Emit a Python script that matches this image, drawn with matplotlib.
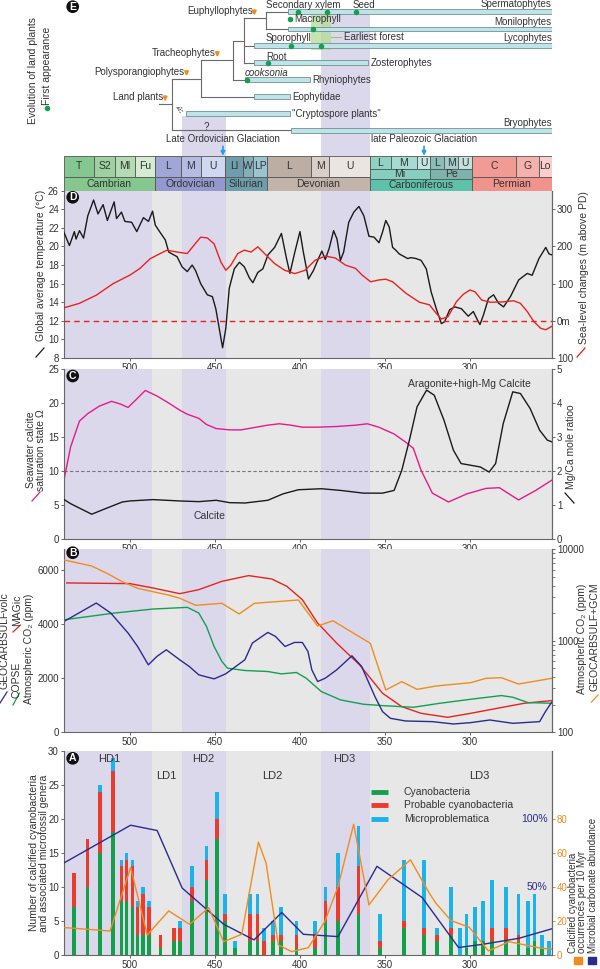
import numpy as np
import matplotlib.pyplot as plt
from matplotlib.patches import Rectangle
from matplotlib.lines import Line2D
from matplotlib.ticker import LogLocator, NullFormatter

plt.rcParams['font.family'] = ['Liberation Sans', 'DejaVu Sans']
plt.rcParams['axes.linewidth'] = 0.8

# === Data ===
# purple intervals (high diversity / glaciation windows), Ma
high_bands = [(538.8, 486.9), (469.5, 443.3), (387.8, 359.0)]

# geological timescale
periods = ['Cambrian', 'Ordovician', 'Silurian', 'Devonian', 'Carboniferous', 'Permian']
period_bounds = [538.8, 485.4, 443.8, 419.2, 358.9, 298.9, 251.9]
period_colors = ['#86c68f', '#9399cd', '#6e9dab', '#c2b4aa', '#5ec2aa', '#f0938c']
stages = ['T', 'S2', 'Ml', 'Fu', 'L', 'M', 'U', 'Ll', 'W', 'LP', 'L', 'M', 'U',
          'L', 'M', 'U', 'L', 'M', 'U', 'C', 'G', 'Lo']
stage_bounds = [538.8, 521, 509, 497, 485.4, 470, 458.4, 443.8, 433.4, 427.4, 419.2,
                393.3, 382.7, 358.9, 346.7, 330.9, 323.2, 315.2, 307, 298.9, 273, 259.5, 251.9]
stage_colors = ['#85c791', '#9dd1a0', '#b4dcb3', '#d6ecd2', '#a0a6d6', '#b5bce2', '#cfd8f0',
                '#6e9dab', '#85aebb', '#9ac4d0', '#bcaea3', '#d9cfc8', '#ebe5e1',
                '#8fd2c4', '#a5dcd1', '#c2e7e0', '#88bdb8', '#a2cdca', '#c4e1de',
                '#f29b94', '#f5b1ac', '#f9cfcd']
subperiods = ['Mi', 'Pe']
subperiod_bounds = [358.9, 323.2, 298.9]
subperiod_colors = ['#86cfc0', '#7eb3ad']

# E: land plant groups (range bars)
groups = ['Spermatophytes', 'Monilophytes', 'Lycophytes', 'Zosterophytes', 'Rhyniophytes',
          'Eophytidae', '"Cryptospore plants"', 'Bryophytes']
group_start = [407.2, 407.2, 426.8, 426.8, 432.4, 426.8, 467.3, 405.4]
group_end = [251.9, 251.9, 251.9, 359.9, 394.1, 405.9, 405.9, 251.9]
group_row = [11.7, 29.0, 45.7, 62.7, 79.7, 96.7, 113.7, 130.2]
first_age = [401.4, 383.8, 367.1, 405.9, 392.3, 405.4, 387.4, 418.9, 431.3]
first_row = [11.7, 11.7, 11.7, 19.3, 29.0, 45.7, 45.7, 62.7, 79.7]
clades = ['Land plants', 'Polysporangiophytes', 'Tracheophytes', 'Euphyllophytes']
clade_age = [479.3, 466.7, 448.6, 426.8]
clade_row = [104.3, 79.0, 60.0, 18.3]

# D: global average temperature (C) and sea level (m above PD)
temp_age = [538.8, 535.6, 532.7, 531.7, 529.7, 527.3, 524.8, 521.4, 518.8, 515.8,
            513.3, 509.3, 507.9, 505.0, 503.0, 499.0, 496.0, 492.1, 489.1, 486.7,
            485.1, 482.2, 479.2, 477.2, 472.3, 469.3, 466.3, 463.4, 461.4, 458.4,
            454.5, 451.5, 449.5, 447.5, 445.5, 443.6, 441.6, 438.6, 435.6, 432.7,
            429.7, 427.7, 424.8, 421.8, 418.8, 414.9, 410.9, 407.9, 405.9, 403.0,
            400.0, 398.0, 395.0, 392.1, 389.1, 387.1, 385.1, 382.8, 380.2, 378.2,
            376.2, 374.3, 371.3, 368.3, 365.3, 362.4, 359.4, 356.4, 353.5, 351.5,
            349.5, 347.5, 345.5, 343.6, 341.6, 338.6, 336.6, 334.7, 331.7, 328.7,
            325.7, 322.8, 319.8, 316.8, 314.9, 311.9, 308.9, 305.0, 301.0, 298.0,
            295.6, 294.1, 292.1, 289.1, 286.1, 283.2, 280.2, 276.2, 271.3, 266.3,
            263.4, 259.4, 255.4, 253.5, 251.9]
temp_val = [21.5, 20.1, 21.6, 20.8, 21.7, 20.9, 23.3, 25.0, 23.5, 24.5,
            22.8, 24.8, 23.0, 23.7, 22.7, 22.6, 21.6, 23.1, 22.7, 23.8,
            22.3, 21.5, 20.7, 19.4, 18.9, 17.8, 17.3, 18.0, 17.4, 16.0,
            14.8, 14.6, 13.3, 11.2, 9.1, 11.2, 15.5, 17.6, 18.3, 17.8,
            16.6, 16.1, 17.2, 17.6, 19.1, 19.9, 21.4, 18.7, 17.1, 19.4,
            21.6, 19.4, 16.5, 17.4, 18.7, 19.5, 18.6, 19.8, 21.7, 20.8,
            18.5, 19.4, 22.6, 23.7, 24.3, 23.3, 21.1, 21.0, 20.4, 21.5,
            22.8, 22.1, 19.9, 19.6, 19.2, 18.9, 18.7, 18.8, 18.7, 18.5,
            17.6, 15.1, 13.3, 11.7, 11.9, 13.2, 13.5, 13.3, 12.5, 13.0,
            12.1, 11.6, 12.6, 14.4, 14.8, 13.9, 13.5, 14.6, 16.4, 17.1,
            16.9, 18.7, 19.9, 19.2, 19.1]
sl_age = [538.8, 529.7, 519.8, 509.9, 500.0, 494.1, 488.1, 482.2, 478.2, 472.3,
          466.3, 462.4, 458.4, 454.5, 450.5, 446.5, 443.6, 440.6, 436.6, 432.7,
          428.7, 424.8, 420.8, 414.9, 409.0, 403.0, 397.0, 391.1, 385.1, 379.2,
          373.3, 367.3, 363.4, 358.4, 353.5, 349.5, 345.5, 337.6, 329.7, 323.8,
          319.8, 316.8, 312.9, 308.0, 304.0, 300.0, 297.0, 293.1, 288.1, 280.2,
          274.3, 270.3, 266.3, 262.4, 258.4, 255.4, 251.9]
sl_val = [35, 47, 69, 100, 123, 141, 167, 181, 190, 185,
          181, 203, 225, 223, 207, 158, 136, 150, 181, 190,
          185, 199, 181, 154, 136, 127, 136, 163, 174, 169,
          150, 141, 123, 105, 110, 112, 105, 74, 50, 43,
          20, 5, 11, 51, 71, 83, 78, 56, 50, 51,
          54, 47, 25, -2, -20, -24, -15]

# C: seawater calcite saturation state and Mg/Ca
omega_age = [538.7, 534.9, 529.7, 524.8, 518.0, 510.8, 505.6, 501.1, 496.6, 491.0,
             484.2, 477.5, 470.7, 466.2, 459.5, 455.0, 449.3, 441.4, 434.7, 425.7,
             418.9, 412.2, 405.4, 398.6, 389.6, 378.4, 367.1, 360.4, 353.6, 344.6,
             337.8, 333.3, 328.8, 322.1, 312.6, 301.8, 290.5, 282.7, 271.4, 261.3, 251.9]
omega_val = [8.8, 13.5, 17.3, 18.4, 19.5, 20.2, 19.8, 19.3, 20.4, 21.8,
             21.0, 20.0, 18.9, 18.3, 17.7, 16.8, 16.2, 16.0, 16.0, 16.4,
             16.7, 16.9, 16.7, 16.4, 16.4, 16.5, 16.7, 16.9, 16.4, 15.4,
             14.2, 13.3, 10.1, 6.7, 5.4, 6.6, 7.4, 7.5, 5.7, 7.1, 8.6]
mgca_age = [538.7, 534.9, 522.5, 514.6, 504.5, 500.0, 486.5, 470.7, 459.5, 449.3,
            441.4, 432.4, 418.9, 409.9, 400.9, 387.4, 376.1, 362.6, 351.4, 344.6,
            340.1, 335.6, 331.1, 325.5, 321.0, 315.3, 309.7, 305.2, 299.5, 293.9,
            288.7, 284.9, 280.4, 274.8, 270.3, 264.6, 259.0, 254.5, 251.9]
mgca_val = [1.15, 1.03, 0.72, 0.88, 1.08, 1.11, 1.15, 1.11, 1.09, 1.13,
            1.06, 1.05, 1.13, 1.32, 1.44, 1.47, 1.42, 1.34, 1.34, 1.42,
            2.01, 2.90, 3.88, 4.37, 4.22, 3.49, 2.60, 2.21, 2.16, 2.11,
            1.96, 2.21, 3.39, 4.32, 4.27, 3.83, 3.19, 2.90, 2.85]

# B: atmospheric CO2 (ppm)
gcm_age = [538.7, 522.5, 513.5, 504.5, 495.5, 486.5, 477.5, 470.7, 461.3, 445.9,
           435.8, 426.8, 400.9, 389.6, 380.6, 358.6, 354.7, 349.5, 340.1, 331.1,
           319.8, 299.5, 290.5, 281.5, 271.4, 251.9]
gcm_val = [7640, 6561, 5458, 4416, 3741, 3436, 3162, 2911, 2438, 2565,
           1959, 2565, 2786, 1445, 1652, 935, 565, 288, 356, 293,
           319, 347, 387, 393, 335, 387]
magic_age = [537.2, 500.0, 486.5, 470.7, 459.5, 445.9, 430.2, 416.7, 407.7, 398.6,
             389.6, 378.4, 364.9, 351.4, 340.1, 328.8, 313.1, 299.5, 283.8, 268.0, 251.9]
magic_val = [5508, 5482, 5322, 5111, 5259, 5567, 5778, 5655, 5383, 4889,
             4026, 3285, 2481, 1432, 938, 691, 543, 691, 877, 1062, 1160]
copse_age = [538.7, 509.0, 486.5, 466.2, 459.5, 455.0, 450.5, 445.9, 442.6, 432.4,
             418.9, 411.0, 402.0, 396.4, 387.4, 376.1, 362.6, 351.4, 333.3, 317.6,
             299.5, 281.5, 274.8, 265.8, 251.9]
copse_val = [4148, 4395, 4543, 4605, 4395, 3901, 3160, 2605, 2358, 2272,
             2235, 2148, 2198, 1990, 1494, 1185, 1025, 975, 913, 1062,
             1210, 1346, 1284, 1087, 1062]
volc_age = [538.7, 519.8, 511.3, 501.1, 495.5, 489.2, 484.2, 478.6, 470.7, 465.1,
            459.5, 450.5, 443.7, 432.4, 428.0, 418.9, 414.4, 408.8, 403.2, 398.6,
            395.3, 393.0, 389.6, 385.1, 378.4, 369.4, 363.7, 355.9, 351.4, 346.8,
            337.8, 322.1, 309.7, 299.5, 288.3, 274.8, 259.0, 255.6, 251.9]
volc_val = [4087, 4765, 4395, 3655, 3160, 2481, 2790, 3037, 2667, 2420,
            2111, 1963, 2148, 2667, 3285, 3679, 3531, 3160, 3309, 3309,
            2975, 2296, 1864, 1988, 2296, 2815, 2420, 1309, 753, 506,
            407, 383, 296, 346, 444, 321, 383, 753, 1100]

# A: calcified cyanobacteria and microfossil genera
bar_age = [533, 525, 517.5, 510, 505, 502, 498.5, 495.5, 492.5, 489,
           482, 474, 470.5, 463.5, 455, 449, 444, 438, 429.5, 425,
           421, 416, 411, 402, 391, 385, 377.5, 365.5, 353, 339,
           327, 319.5, 311, 306, 302, 297, 292.5, 287, 279, 271.5,
           266, 262, 257.5, 253.5]
cyano = [7, 10, 15, 18, 8, 8, 7, 3, 3, 3,
         1, 2, 2, 8, 11, 17, 5, 1, 2, 2,
         0, 2, 2, 1, 1, 5, 5, 6, 1, 4,
         3, 2, 3, 0, 1, 2, 2, 2, 2, 2,
         1, 2, 1, 0]
probable = [5, 7, 9, 9, 5, 6, 6, 4, 6, 4,
            2, 2, 2, 2, 3, 3, 1, 0, 4, 4,
            2, 1, 1, 2, 2, 3, 5, 7, 1, 1,
            1, 1, 1, 0, 0, 0, 0, 2, 2, 1,
            0, 0, 0, 0]
micro = [0, 0, 1, 2, 1, 1, 1, 1, 1, 1,
         0, 0, 1, 3, 2, 4, 3, 1, 3, 3,
         2, 2, 4, 2, 2, 2, 5, 6, 4, 9,
         10, 1, 6, 4, 5, 5, 6, 7, 6, 6,
         7, 7, 2, 2]
occ_age = [538.3, 511.7, 499.6, 489.8, 477.2, 464.9, 453.7, 444.9, 434.2, 424.4,
           419.9, 412.7, 404.9, 395.1, 385.4, 377.6, 368.4, 359.4, 348.3, 335.0,
           323.9, 320.0, 311.1, 300.4, 289.1, 277.0, 257.5, 251.9]
occ_val = [16.1, 14.1, 51.4, 11.8, 25.9, 18.0, 27.8, 7.8, 12.2, 66.3,
           53.9, 5.9, 2.0, 4.3, 19.6, 40.2, 76.8, 29.4, 44.1, 55.9,
           36.3, 30.4, 20.2, 16.3, 2.4, 7.8, 3.9, 3.4]
abund_age = [538.8, 499.6, 484.0, 469.3, 444.9, 427.0, 410.7, 398.0, 377.6, 354.7,
             328.1, 306.7, 292.2, 271.1, 251.9]
abund_val = [67.6, 95.3, 91.4, 49.2, 22.6, 11.1, 31.2, 15.2, 13.5, 65.1,
             42.2, 5.5, 7.9, 12.3, 19.2]

# === Colours ===
GREY_BG = '#e6e7e6'
PURPLE = '#dcd8ec'
AXC = '#666666'
TXT = '#333333'
BLACK = '#1a1a1a'
RED = '#e8221e'
PINK = '#e6198a'
ORANGE = '#f08c1e'
NAVY = '#2b2b8c'
GREEN = '#13a04e'
BAR_G, BAR_R, BAR_B = '#12a04b', '#ec3b2b', '#1cb2ea'

# === Figure helpers (pixel layout) ===
W, H = 600, 969
X_LEFT, X_RIGHT = 64, 551.7
XLIM = (538.8, 251.9)
XTICKS = [500, 450, 400, 350, 300]

fig = plt.figure(figsize=(W / 100, H / 100), dpi=100)


def fx(px):
    return px / W


def fy(py):
    return 1 - py / H


def add_ax(top, bottom):
    return fig.add_axes([fx(X_LEFT), fy(bottom), (X_RIGHT - X_LEFT) / W, (bottom - top) / H])


def style_panel(ax):
    ax.set_xlim(*XLIM)
    ax.set_facecolor(GREY_BG)
    for a, b in high_bands:
        ax.axvspan(b, a, color=PURPLE, lw=0, zorder=0)
    ax.spines['top'].set_visible(False)
    for s in ['left', 'bottom', 'right']:
        ax.spines[s].set_color(AXC)
    ax.set_xticks(XTICKS)
    ax.tick_params(axis='both', colors=AXC, labelcolor=TXT, labelsize=7,
                   length=2.5, width=0.7, pad=1.2)


def style_twin(ax):
    for s in ['top', 'left', 'bottom']:
        ax.spines[s].set_visible(False)
    ax.spines['right'].set_color(AXC)
    ax.tick_params(axis='y', colors=AXC, labelcolor=TXT, labelsize=7,
                   length=2.5, width=0.7, pad=1.2)


def panel_letter(letter, px, py):
    fig.text(fx(px), fy(py), letter, ha='center', va='center', color='white',
             fontsize=7.5, fontweight='bold',
             bbox=dict(boxstyle='circle,pad=0.13', fc='#111111', ec='none'))


def side_label(px, py, text, color=TXT, va='center', size=7.5, **kw):
    fig.text(fx(px), fy(py), text, rotation=90, ha='center', va=va,
             color=color, fontsize=size, **kw)


def mark(x0, y0, x1, y1, color):
    fig.add_artist(Line2D([fx(x0), fx(x1)], [fy(y0), fy(y1)], color=color,
                          lw=0.9, transform=fig.transFigure))


# === E: evolution of land plants ===
ax_e = add_ax(0, 156)
ax_e.set_xlim(*XLIM)
ax_e.set_ylim(156, 0)
ax_e.axis('off')
ax_e.axvspan(high_bands[1][1], high_bands[1][0], 0, 40 / 156, color=PURPLE, lw=0, zorder=0)
ax_e.axvspan(high_bands[2][1], high_bands[2][0], 0, 143 / 156, color=PURPLE, lw=0, zorder=0)
ax_e.fill([393.7, 381.8, 381.8, 393.7], [15, 15, 50, 50], color='#b3dc96', alpha=0.75,
          lw=0, zorder=1)

tree = [((483.1, 104.3), (475.2, 104.3)), ((475.2, 79.0), (475.2, 130.2)),
        ((475.2, 79.0), (458.3, 79.0)), ((475.2, 130.2), (405.4, 130.2)),
        ((458.3, 60.0), (458.3, 96.7)), ((458.3, 60.0), (439.2, 60.0)),
        ((458.3, 96.7), (426.8, 96.7)), ((439.2, 40.7), (439.2, 79.7)),
        ((439.2, 40.7), (433.1, 40.7)), ((439.2, 79.7), (432.4, 79.7)),
        ((433.1, 18.3), (433.1, 62.7)), ((433.1, 18.3), (420.0, 18.3)),
        ((433.1, 45.7), (426.8, 45.7)), ((433.1, 62.7), (426.8, 62.7)),
        ((420.0, 11.7), (420.0, 29.0)), ((420.0, 11.7), (407.2, 11.7)),
        ((420.0, 29.0), (407.2, 29.0))]
for (xa, ya), (xb, yb) in tree:
    ax_e.plot([xa, xb], [ya, yb], color='#6a6a6a', lw=0.8, zorder=2)

ax_e.barh(group_row, np.array(group_start) - np.array(group_end), left=group_end,
          height=4.7, color='#bfe4e8', edgecolor='#6f8f96', lw=0.6, zorder=3)
for name, s, e, r in zip(groups, group_start, group_end, group_row):
    if e < 253:
        ax_e.text(e, r - 7.3, name, ha='right', va='center', fontsize=7, color=TXT)
    else:
        ax_e.text(e - 1.5, r, name, ha='left', va='center', fontsize=7, color=TXT)
ax_e.plot(first_age, first_row, 'o', color=GREEN, ms=4, mec='none', zorder=4)

for name, a, r in zip(clades, clade_age, clade_row):
    ax_e.annotate('', xy=(a, r), xytext=(a, r - 11),
                  arrowprops=dict(arrowstyle='-|>', color=ORANGE, lw=1.2, mutation_scale=6))
    ax_e.text(a + 1.0, r - 7, name, ha='right', va='center', fontsize=7, color=TXT)

feature_txt = [('Secondary xylem', 420.0, 4.7), ('Seed', 368.9, 4.7), ('Macrophyll', 403.2, 19.3),
               ('Sporophyll', 420.0, 37.7), ('Root', 420.0, 56.7)]
for t, a, r in feature_txt:
    ax_e.text(a, r, t, ha='left', va='center', fontsize=7, color=TXT)
ax_e.text(432.4, 73.3, 'cooksonia', ha='left', va='center', fontsize=7, color=TXT, style='italic')
ax_e.text(374.3, 37.3, 'Earliest forest', ha='left', va='center', fontsize=7, color=TXT)
ax_e.plot([381.8, 376.0], [37.3, 37.3], color='#8cc870', lw=0.7)
ax_e.text(455, 127.5, '?', ha='center', va='center', fontsize=7, color=TXT)
ax_e.annotate('', xy=(474.3, 105.5), xytext=(467.5, 112.5),
              arrowprops=dict(arrowstyle='->', ls=':', color='#555555', lw=0.7))
ax_e.text(445.3, 139.3, 'Late Ordovician Glaciation', ha='center', va='center', fontsize=7, color=TXT)
ax_e.text(327.0, 139.3, 'late Paleozoic Glaciation', ha='center', va='center', fontsize=7, color=TXT)
for a in [445.3, 327.0]:
    ax_e.annotate('', xy=(a, 158.5), xytext=(a, 143.5), annotation_clip=False,
                  arrowprops=dict(arrowstyle='-|>', color='#1ea0e6', lw=1.2, mutation_scale=6))

side_label(32.5, 71, 'Evolution of land plants')
side_label(47, 66, 'First appearance')
fig.add_artist(Line2D([fx(47)], [fy(108)], marker='o', color=GREEN, ms=4, mec='none',
                      transform=fig.transFigure))
panel_letter('E', 72.7, 6.7)

# === Geological timescale ===
ax_t = add_ax(156, 190.7)
ax_t.set_xlim(*XLIM)
ax_t.set_ylim(1, 0)
ax_t.axis('off')
for i, name in enumerate(stages):
    a, b = stage_bounds[i], stage_bounds[i + 1]
    h = 0.383 if (a <= 358.9 and b >= 298.9) else 0.597
    ax_t.add_patch(Rectangle((b, 0), a - b, h, fc=stage_colors[i], ec='#555555', lw=0.6))
    ax_t.text((a + b) / 2, h / 2, name, ha='center', va='center', fontsize=7.5, color=TXT)
for i, name in enumerate(subperiods):
    a, b = subperiod_bounds[i], subperiod_bounds[i + 1]
    ax_t.add_patch(Rectangle((b, 0.383), a - b, 0.288, fc=subperiod_colors[i], ec='#555555', lw=0.6))
    ax_t.text((a + b) / 2, 0.527, name, ha='center', va='center', fontsize=7.5, color=TXT)
for i, name in enumerate(periods):
    a, b = period_bounds[i], period_bounds[i + 1]
    top = 0.671 if name == 'Carboniferous' else 0.597
    ax_t.add_patch(Rectangle((b, top), a - b, 1 - top, fc=period_colors[i], ec='#555555', lw=0.6))
    ax_t.text((a + b) / 2, (top + 1) / 2, name, ha='center', va='center', fontsize=7.5, color=TXT)

# === D: temperature and sea level ===
ax_d = add_ax(190.7, 358)
style_panel(ax_d)
ax_d.set_ylim(8, 26)
ax_d.set_yticks(range(8, 27, 2))
ax_d.plot(temp_age, temp_val, color=BLACK, lw=1.0, zorder=3)
ax_d2 = ax_d.twinx()
style_twin(ax_d2)
ax_d2.set_ylim(-100, 350)
ax_d2.set_yticks([-100, 0, 100, 200, 300])
ax_d2.set_yticklabels(['100', '0m', '100', '200', '300'])
ax_d2.axhline(0, color=RED, ls=(0, (4, 3)), lw=1.0)
ax_d2.plot(sl_age, sl_val, color=RED, lw=1.0)
panel_letter('D', 72.7, 197.3)
side_label(41, 265, 'Global average temperature (°C)')
mark(36, 357, 44, 348, BLACK)
side_label(584, 268, 'Sea-level changes (m above PD)')
mark(577, 357, 585, 348, RED)

# === C: seawater chemistry ===
ax_c = add_ax(368.7, 538.7)
style_panel(ax_c)
ax_c.set_ylim(0, 25)
ax_c.set_yticks(range(0, 26, 5))
ax_c.axhline(10, color='#777777', ls=(0, (3, 2)), lw=0.8)
ax_c.plot(omega_age, omega_val, color=PINK, lw=1.0)
ax_c2 = ax_c.twinx()
style_twin(ax_c2)
ax_c2.set_ylim(0, 5)
ax_c2.set_yticks(range(0, 6))
ax_c2.plot(mgca_age, mgca_val, color=BLACK, lw=1.0)
ax_c.text(300, 22.8, 'Aragonite+high-Mg Calcite', ha='center', va='center', fontsize=7.5, color=TXT)
ax_c.text(453, 3.3, 'Calcite', ha='center', va='center', fontsize=7.5, color=TXT)
panel_letter('C', 72.7, 376)
side_label(36, 450, 'Seawater calcite\nsaturation state Ω', linespacing=1.1)
mark(32, 501, 40, 492, PINK)
side_label(571, 447, 'Mg/Ca mole ratioo')
mark(565, 493, 574, 503, BLACK)

# === B: atmospheric CO2 ===
ax_b = add_ax(549.3, 732)
style_panel(ax_b)
ax_b.set_ylim(0, 6750)
ax_b.set_yticks([0, 2000, 4000, 6000])
ax_b.plot(magic_age, magic_val, color=RED, lw=1.0)
ax_b.plot(copse_age, copse_val, color='#12a050', lw=1.0)
ax_b.plot(volc_age, volc_val, color=NAVY, lw=1.0)
ax_b2 = ax_b.twinx()
style_twin(ax_b2)
ax_b2.set_yscale('log')
ax_b2.set_ylim(100, 10000)
ax_b2.set_yticks([100, 1000, 10000])
ax_b2.set_yticklabels(['100', '1000', '10000'])
ax_b2.yaxis.set_minor_locator(LogLocator(base=10, subs=range(2, 10)))
ax_b2.yaxis.set_minor_formatter(NullFormatter())
ax_b2.tick_params(axis='y', which='minor', length=2, width=0.6, colors=AXC)
ax_b2.plot(gcm_age, gcm_val, color=ORANGE, lw=1.0)
panel_letter('B', 72.7, 552.7)
side_label(5, 641, 'GEOCARBSULFvolc')
mark(0, 703, 7, 692, NAVY)
side_label(16.5, 680, 'COPSE')
mark(13, 705, 19.5, 693, GREEN)
side_label(17, 610, 'MAGic')
mark(13, 632, 20.5, 625, RED)
side_label(29.3, 649, 'Atmospheric CO₂ (ppm)')
side_label(581.7, 639, 'Atmospheric CO₂ (ppm)')
side_label(594, 637, 'GEOCARBSULF+GCM')
mark(591.5, 702, 598, 695, ORANGE)

# === A: calcified cyanobacteria ===
ax_a = add_ax(750.7, 955)
style_panel(ax_a)
ax_a.set_ylim(0, 30)
ax_a.set_yticks(range(0, 31, 5))
cy = np.array(cyano)
pr = np.array(probable)
mi = np.array(micro)
ax_a.bar(bar_age, cy, width=2.2, color=BAR_G, lw=0, zorder=2)
ax_a.bar(bar_age, pr, width=2.2, bottom=cy, color=BAR_R, lw=0, zorder=2)
ax_a.bar(bar_age, mi, width=2.2, bottom=cy + pr, color=BAR_B, lw=0, zorder=2)

ax_a3 = ax_a.twinx()
ax_a3.set_ylim(0, 150)
ax_a3.axis('off')
ax_a3.plot(abund_age, abund_val, color=NAVY, lw=1.0)
ax_a3.text(254.3, 100, '100%', ha='right', va='center', fontsize=7.5, color=NAVY)
ax_a3.text(254.3, 50, '50%', ha='right', va='center', fontsize=7.5, color=NAVY)

ax_a2 = ax_a.twinx()
style_twin(ax_a2)
ax_a2.set_ylim(0, 120)
ax_a2.set_yticks(range(0, 81, 20))
ax_a2.tick_params(axis='y', colors=ORANGE, labelcolor=ORANGE)
ax_a2.plot(occ_age, occ_val, color=ORANGE, lw=1.0)

for t, a, v in [('HD1', 512, 28.8), ('LD1', 478.5, 26.35), ('HD2', 457, 28.8),
                ('LD2', 416, 26.35), ('HD3', 374, 28.8), ('LD3', 294.5, 26.35)]:
    ax_a.text(a, v, t, ha='center', va='center', fontsize=8, color=TXT)

legend_items = [('Cyanobacteria', BAR_G), ('Probable cyanobacteria', BAR_R),
                ('Microproblematica', BAR_B)]
for i, (lab, col) in enumerate(legend_items):
    yy = 791.7 + i * 13.5
    fig.add_artist(Line2D([fx(371), fx(388)], [fy(yy), fy(yy)], color=col, lw=3.5,
                          solid_capstyle='butt', transform=fig.transFigure))
    fig.text(fx(403.7), fy(yy), lab, ha='left', va='center', fontsize=7.5, color=TXT)

panel_letter('A', 72.7, 758.3)
side_label(39, 853, 'Number of calcified cyanobacteria\nand associated microfossil genera',
           linespacing=1.1)
side_label(577.5, 953, 'Calcified cyanobacteria\noccurrences per 10 Myr', va='bottom',
           size=7, multialignment='left', linespacing=0.95)
side_label(592.5, 953, 'Microbial carbonate abundance', va='bottom', size=7)
fig.add_artist(Rectangle((fx(574), fy(964)), 7.7 / W, 7.3 / H, color=ORANGE,
                         transform=fig.transFigure))
fig.add_artist(Rectangle((fx(588), fy(964)), 7.7 / W, 7.3 / H, color=NAVY,
                         transform=fig.transFigure))

fig.savefig('out.png', dpi=100)
